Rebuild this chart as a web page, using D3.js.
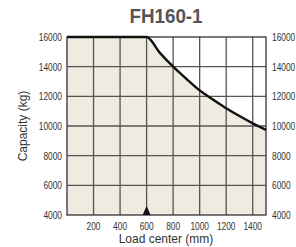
<!DOCTYPE html>
<html><head><meta charset="utf-8">
<script src="https://cdn.jsdelivr.net/npm/d3@7"></script>
<style>body{margin:0;background:#fff}svg{display:block}</style>
</head><body>
<svg id="c" width="296" height="247"></svg>
<script>
const title = "FH160-1";
const loadCenters = [0, 600, 700, 800, 900, 1000, 1100, 1200, 1300, 1400, 1500];
const capacities = [16000, 16000, 14930, 14000, 13180, 12400, 11790, 11200, 10670, 10180, 9740];
const xTicks = [200, 400, 600, 800, 1000, 1200, 1400];
const yTicks = [4000, 6000, 8000, 10000, 12000, 14000, 16000];
const markerAt = 600;

const svg = d3.select("#c");
const L = 67, R = 266, T = 37, B = 215;
const x = d3.scaleLinear().domain([0, 1500]).range([L, R]);
const y = d3.scaleLinear().domain([4000, 16000]).range([B, T]);
const pts = loadCenters.map((d, i) => [d, capacities[i]]);
const fnt = "'Liberation Sans',Arial,sans-serif";
const SX = 0.76;

svg.append("rect").attr("x", L).attr("y", T).attr("width", R - L).attr("height", B - T).attr("fill", "#fff");
svg.append("path").datum(pts)
  .attr("d", d3.area().x(d => x(d[0])).y0(y(4000)).y1(d => y(d[1])).curve(d3.curveMonotoneX))
  .attr("fill", "#efebe1");

const g = svg.append("g");
g.selectAll(".vx").data(xTicks).join("line")
  .attr("x1", d => x(d)).attr("x2", d => x(d)).attr("y1", T).attr("y2", B)
  .attr("stroke", "#555").attr("stroke-width", 1.3);
g.selectAll(".hy").data(yTicks.slice(1, -1)).join("line")
  .attr("x1", L).attr("x2", R).attr("y1", d => y(d)).attr("y2", d => y(d))
  .attr("stroke", "#555").attr("stroke-width", 1.3);
svg.append("rect").attr("x", L).attr("y", T).attr("width", R - L).attr("height", B - T)
  .attr("fill", "none").attr("stroke", "#333").attr("stroke-width", 1.3);

svg.append("path").datum(pts)
  .attr("d", d3.line().x(d => x(d[0])).y(d => y(d[1])).curve(d3.curveMonotoneX))
  .attr("fill", "none").attr("stroke", "#111").attr("stroke-width", 2.4);

const mx = x(markerAt);
svg.append("path").attr("d", `M${mx - 4},${B} L${mx},${B - 9} L${mx + 4},${B} Z`).attr("fill", "#111");

function lab(sel, anchor){
  sel.attr("font-family", fnt).attr("font-size", 11).attr("fill", "#333").attr("text-anchor", anchor);
}
svg.append("g").selectAll("text").data(yTicks).join("text")
  .attr("transform", d => `translate(${L - 5},${y(d) + 4}) scale(${SX},1)`).text(d => d).call(lab, "end");
svg.append("g").selectAll("text").data(yTicks).join("text")
  .attr("transform", d => `translate(${R + 6},${y(d) + 4}) scale(${SX},1)`).text(d => d).call(lab, "start");
svg.append("g").selectAll("text").data(xTicks).join("text")
  .attr("transform", d => `translate(${x(d)},${B + 15}) scale(${SX},1)`).text(d => d).call(lab, "middle");

svg.append("text").attr("transform", "translate(166,23) scale(0.94,1)").attr("text-anchor", "middle")
  .attr("font-family", fnt).attr("font-weight", "bold").attr("font-size", 20).attr("fill", "#555").text(title);
svg.append("text").attr("x", 166).attr("y", 243).attr("text-anchor", "middle")
  .attr("font-family", fnt).attr("font-size", 12).attr("fill", "#333").text("Load center (mm)");
svg.append("text").attr("transform", `translate(27,${(T + B) / 2}) rotate(-90)`).attr("text-anchor", "middle")
  .attr("font-family", fnt).attr("font-size", 12).attr("fill", "#333").text("Capacity (kg)");
</script>
</body></html>
